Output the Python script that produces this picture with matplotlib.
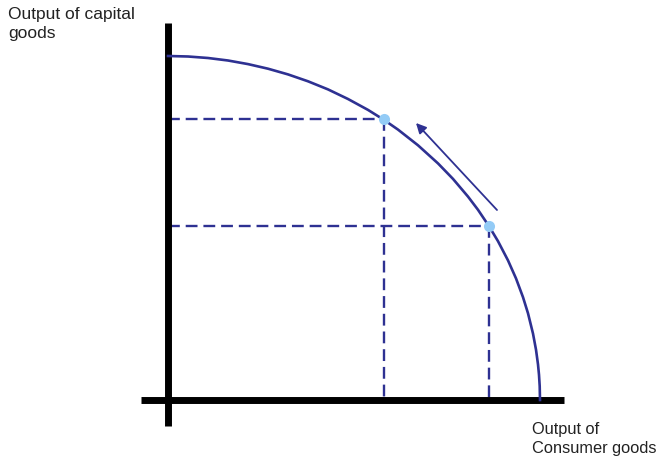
"""
Production possibility frontier: shift of output towards capital goods.
"""
import matplotlib
matplotlib.use('Agg')
import matplotlib.pyplot as plt

# frontier (consumer goods, capital goods)
curve_x = [0, 20, 40, 60, 80, 100, 120, 140, 160, 180, 200, 216, 230, 250, 270,
           285, 300, 310, 321, 330, 340, 348, 355, 360, 365, 368, 370, 371, 371.7, 372]
curve_y = [344, 343.5, 342, 339.5, 335.9, 331.3, 325.6, 318.7, 310.6, 301, 290.1, 280.1,
           270.4, 254.7, 236.6, 221.1, 203.4, 190.2, 173.8, 158.8, 139.6, 121.6, 102.8,
           86.7, 66.4, 50.3, 35.6, 25.2, 13.8, 0]

# the two marked combinations on the frontier
points_x = [216, 321]
points_y = [281, 174]

# direction of the move (tail, head)
arrow_from = (329, 190)
arrow_to = (248, 277)

x_label = "Output of\nConsumer goods"
y_label = "Output of capital\ngoods"

NAVY = '#2e3192'
POINT = '#93cbf6'

fig = plt.figure(figsize=(6.63, 4.62), dpi=100)
ax = fig.add_axes([0, 0, 1, 1])
# one data unit = one pixel, origin where the axes cross
ax.set_xlim(-168, 495)
ax.set_ylim(-62, 400)
ax.axis('off')

# axes drawn as thick black strokes
ax.plot([-27, 396], [0, 0], color='black', lw=5, solid_capstyle='butt', zorder=3)
ax.plot([0, 0], [-26, 377], color='black', lw=5, solid_capstyle='butt', zorder=3)

# dashed guides from each point to both axes
for px, py in zip(points_x, points_y):
    ax.plot([0, px], [py, py], color=NAVY, lw=1.7, dashes=(5, 2.5), zorder=2)
    ax.plot([px, px], [py, 0], color=NAVY, lw=1.7, dashes=(5, 2.5), zorder=2)

ax.plot(curve_x, curve_y, color=NAVY, lw=1.9, zorder=4, solid_joinstyle='round')
ax.plot(points_x, points_y, 'o', color=POINT, ms=8, mec='none', zorder=5)

ax.annotate('', xy=arrow_to, xytext=arrow_from,
            arrowprops=dict(arrowstyle='-|>', color=NAVY, lw=1.3,
                            mutation_scale=15, shrinkA=0, shrinkB=0),
            zorder=5)

font = dict(family='Liberation Sans', color='#222222')
ax.text(-160, 393, y_label, va='top', ha='left', linespacing=1.3, fontsize=12.5, **font)
ax.text(364, -22, x_label, va='top', ha='left', linespacing=1.3, fontsize=11.8, **font)

plt.savefig('out.png', dpi=100)
plt.close()
